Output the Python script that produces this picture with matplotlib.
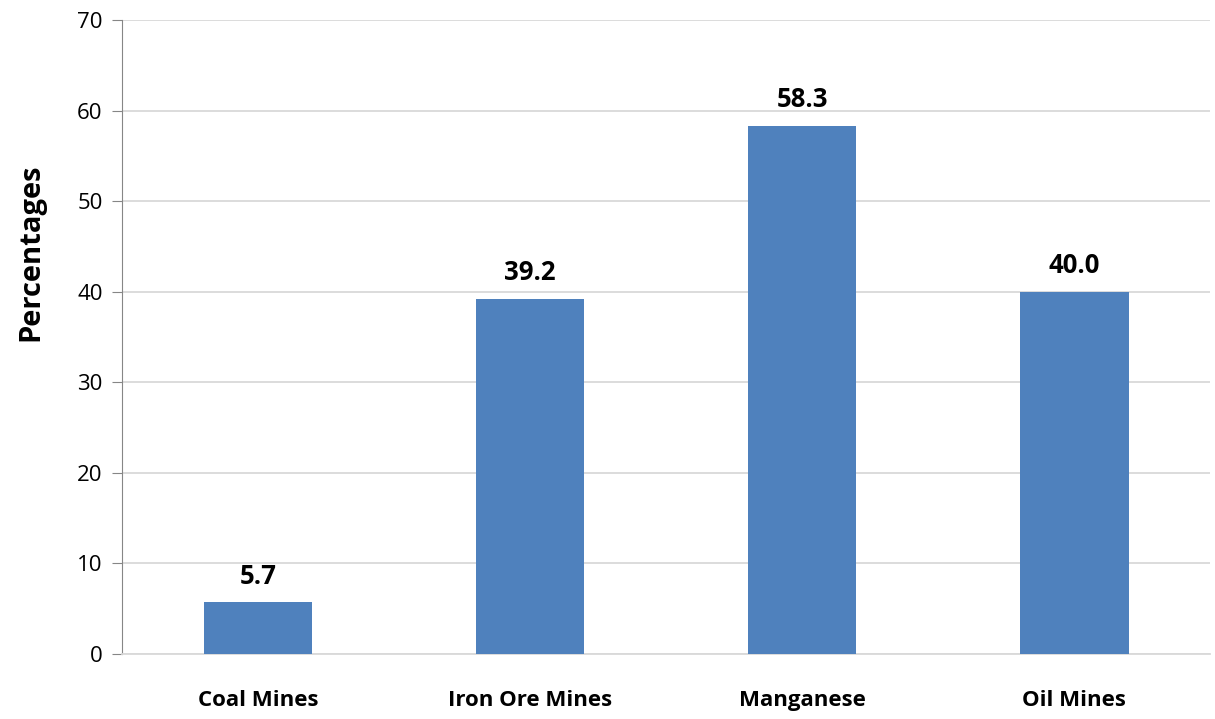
import matplotlib
matplotlib.use('Agg')
import matplotlib.pyplot as plt
import numpy as np

# chart data
categories = ['Coal Mines', 'Iron Ore Mines', 'Manganese', 'Oil Mines']
percentages = [5.7, 39.2, 58.3, 40.0]
yticks = [0, 10, 20, 30, 40, 50, 60, 70]

plt.rcParams['font.family'] = ['Open Sans', 'DejaVu Sans']

fig = plt.figure(figsize=(12.15, 7.19), dpi=100)
ax = fig.add_axes([0.1004, 0.0904, 0.8956, 0.8816])

x = np.arange(len(categories))
ax.bar(x, percentages, width=0.4, color='#4F81BD', zorder=3)

for xi, v in zip(x, percentages):
    ax.text(xi, v + 1.4, f'{v:.1f}', ha='center', va='bottom',
            fontsize=18.5, fontweight='bold', color='black')

ax.set_xlim(-0.5, len(categories) - 0.5)
ax.set_ylim(0, 70)
ax.set_yticks(yticks)
ax.set_xticks(x)
ax.set_xticklabels(categories, fontsize=16, fontweight='bold')
ax.tick_params(axis='x', length=0, pad=26)
ax.tick_params(axis='y', labelsize=16, length=7, color='#868686', pad=7)
ax.yaxis.grid(True, color='#D9D9D9', linewidth=1.3, zorder=0)

ax.set_ylabel('Percentages', fontsize=21, fontweight='bold')
ax.yaxis.set_label_coords(-0.07, 0.634)

for side in ['top', 'right']:
    ax.spines[side].set_visible(False)
ax.spines['left'].set_color('#868686')
ax.spines['bottom'].set_color('#D9D9D9')
ax.spines['bottom'].set_linewidth(1.3)

fig.savefig('out.png', dpi=100, facecolor='white')
